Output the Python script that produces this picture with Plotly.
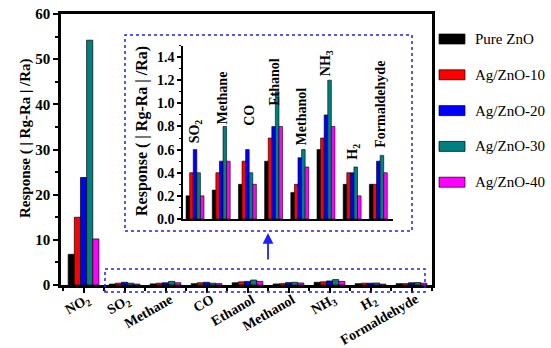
import plotly.graph_objects as go

gases = ["NO<sub>2</sub>", "SO<sub>2</sub>", "Methane", "CO", "Ethanol", "Methanol",
         "NH<sub>3</sub>", "H<sub>2</sub>", "Formaldehyde"]
series_names = ["Pure ZnO", "Ag/ZnO-10", "Ag/ZnO-20", "Ag/ZnO-30", "Ag/ZnO-40"]
colors = ["#000000", "#FF0000", "#0000FF", "#008080", "#FF00FF"]

pure_zno = [6.8, 0.20, 0.25, 0.30, 0.50, 0.23, 0.60, 0.30, 0.30]
ag_zno_10 = [15.0, 0.40, 0.40, 0.50, 0.70, 0.30, 0.70, 0.40, 0.30]
ag_zno_20 = [23.8, 0.60, 0.50, 0.60, 0.80, 0.53, 0.90, 0.40, 0.50]
ag_zno_30 = [54.2, 0.40, 0.80, 0.40, 1.10, 0.60, 1.20, 0.45, 0.55]
ag_zno_40 = [10.2, 0.20, 0.50, 0.30, 0.80, 0.45, 0.80, 0.20, 0.40]
series = [pure_zno, ag_zno_10, ag_zno_20, ag_zno_30, ag_zno_40]

main_ticks = [0, 10, 20, 30, 40, 50, 60]
inset_ticks = [0.0, 0.2, 0.4, 0.6, 0.8, 1.0, 1.2, 1.4]

W, H = 551, 348
def px(x): return x / W
def py(y): return 1 - y / H
def b(s): return "<b>" + s + "</b>"

FONT = "Liberation Serif"
fig = go.Figure()

xs_main = list(range(len(gases)))
xs_inset = list(range(len(gases) - 1))
wm = 0.15
wi = 0.137
for i, (name, vals, col) in enumerate(zip(series_names, series, colors)):
    fig.add_trace(go.Bar(x=xs_main, y=vals, name=name, marker_color=col,
                         marker_line=dict(color="black", width=0.7),
                         width=wm, offset=-2.5 * wm + i * wm,
                         xaxis="x", yaxis="y", showlegend=False))
    fig.add_trace(go.Bar(x=xs_inset, y=vals[1:], name=name, marker_color=col,
                         marker_line=dict(color="black", width=0.6),
                         width=wi, offset=-2.5 * wi + i * wi,
                         xaxis="x2", yaxis="y2", showlegend=False))

fig.update_layout(
    width=W, height=H, margin=dict(l=0, r=0, t=0, b=0, autoexpand=False),
    paper_bgcolor="white", plot_bgcolor="white", barmode="overlay",
    font=dict(family=FONT, color="black"),
    xaxis=dict(domain=[px(61), px(432)], range=[-0.55, 8.5], automargin=False,
               tickmode="array", tickvals=xs_main, showticklabels=False,
               showline=True, linewidth=2.5, linecolor="black", mirror=True,
               ticks="outside", ticklen=5, tickwidth=2, tickcolor="black",
               minor=dict(tickmode="linear", tick0=0.5, dtick=1, ticklen=3,
                          tickwidth=1.5, tickcolor="black", ticks="outside"),
               showgrid=False, zeroline=False),
    yaxis=dict(domain=[py(285), py(14)], range=[0, 60], automargin=False,
               tickmode="array", tickvals=main_ticks,
               ticktext=[b(str(t)) for t in main_ticks],
               tickfont=dict(size=15, family=FONT),
               showline=True, linewidth=2.5, linecolor="black", mirror=True,
               ticks="outside", ticklen=5, tickwidth=2, tickcolor="black",
               minor=dict(tickmode="linear", tick0=5, dtick=10, ticklen=3,
                          tickwidth=1.5, tickcolor="black", ticks="outside"),
               showgrid=False, zeroline=False),
    xaxis2=dict(domain=[px(183), px(393)], range=[-0.46, 7.56], anchor="y2",
                automargin=False,
                showticklabels=False, ticks="", showline=True, linewidth=1.5,
                linecolor="black", showgrid=False, zeroline=False),
    yaxis2=dict(domain=[py(219), py(45.5)], range=[0, 1.5], anchor="x2",
                automargin=False,
                tickmode="array", tickvals=inset_ticks,
                ticktext=[b(f"{t:.1f}") for t in inset_ticks],
                tickfont=dict(size=14, family=FONT),
                showline=True, linewidth=1.5, linecolor="black",
                ticks="outside", ticklen=4, tickwidth=1.5, tickcolor="black",
                minor=dict(tickmode="linear", tick0=0.1, dtick=0.2, ticklen=2,
                           tickwidth=1, tickcolor="black", ticks="outside"),
                showgrid=False, zeroline=False),
)

# main x tick labels, rotated -30 deg, right end near each tick
for gi, g in enumerate(gases):
    fig.add_annotation(xref="x", yref="paper", x=gi + 0.3, y=py(289),
                       text=b(g), textangle=-30, showarrow=False,
                       xanchor="right", yanchor="top",
                       font=dict(size=14, family=FONT))

# axis titles
fig.add_annotation(xref="paper", yref="paper", x=px(25), y=py(138),
                   text=b("Response ( | Rg-Ra | /Ra)"), textangle=-90, showarrow=False,
                   xanchor="center", yanchor="middle",
                   font=dict(size=15, family=FONT))
fig.add_annotation(xref="paper", yref="paper", x=px(142), y=py(131),
                   text=b("Response ( | Rg-Ra | /Ra)"), textangle=-90, showarrow=False,
                   xanchor="center", yanchor="middle",
                   font=dict(size=16, family=FONT))

# inset gas labels (rotated) above each group
label_base = [0.64, 0.80, 0.79, 0.96, 0.62, 1.22, 0.50, 0.60]
for gi, (g, yb) in enumerate(zip(gases[1:], label_base)):
    fig.add_annotation(xref="x2", yref="y2", x=gi + 0.05, y=yb, text=b(g),
                       textangle=-90, showarrow=False, xanchor="center",
                       yanchor="bottom",
                       font=dict(size=14, family=FONT))

# dotted boxes
box_col = "#1f1fff"
fig.add_shape(type="rect", xref="paper", yref="paper",
              x0=px(125), x1=px(412), y0=py(231), y1=py(35),
              line=dict(color=box_col, width=1.5, dash="dot"))
fig.add_shape(type="rect", xref="paper", yref="paper",
              x0=px(105), x1=px(425), y0=py(292), y1=py(269),
              line=dict(color=box_col, width=1.5, dash="dot"))
# arrow
fig.add_annotation(xref="paper", yref="paper", x=px(268), y=py(233),
                   ax=0, ay=35, showarrow=True, arrowhead=2, arrowsize=1.2,
                   arrowwidth=1.8, arrowcolor="#1f1fff", text=" ")

# legend (manual)
for i, (name, col) in enumerate(zip(series_names, colors)):
    yc = 39 + i * 35.8
    fig.add_shape(type="rect", xref="paper", yref="paper",
                  x0=px(439), x1=px(465), y0=py(yc + 5), y1=py(yc - 5),
                  fillcolor=col, line=dict(color="black", width=0.7))
    fig.add_annotation(xref="paper", yref="paper", x=px(473), y=py(yc),
                       text=name, showarrow=False, xanchor="left", yanchor="middle",
                       font=dict(size=15, family=FONT))

fig.write_html("out.html")
